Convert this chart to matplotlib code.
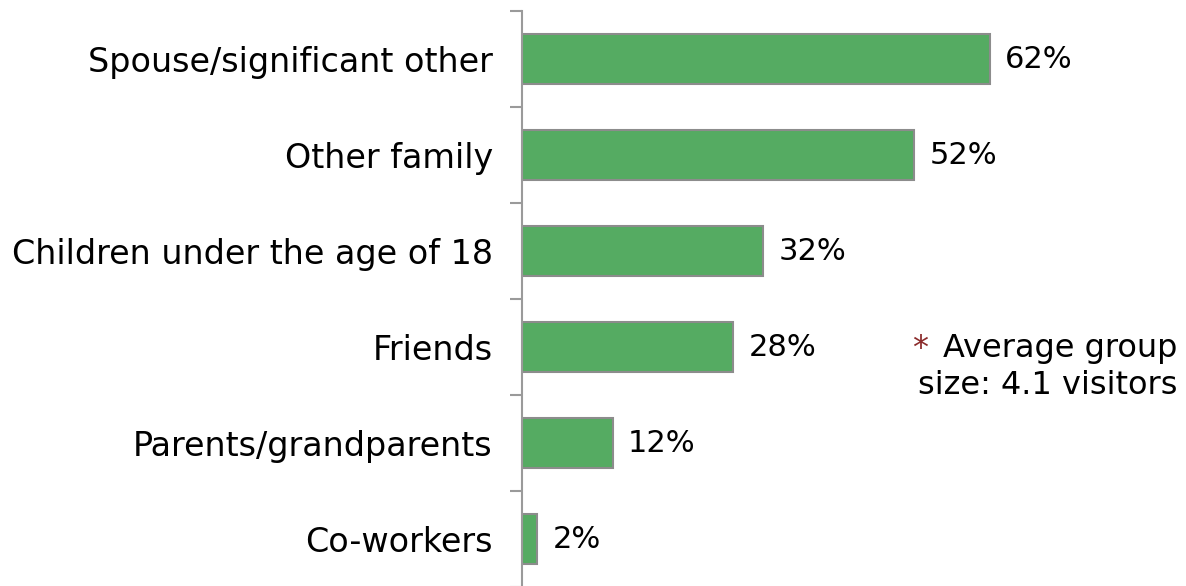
import numpy as np
import matplotlib.pyplot as plt

plt.rc('font', family='DejaVu Sans', size=24)

categories = ["Spouse/significant other", "Other family", "Children under the age of 18",
              "Friends", "Parents/grandparents", "Co-workers"]
values = [62, 52, 32, 28, 12, 2]

BAR_COLOR = "#55AB62"
EDGE_COLOR = "#8C8C8C"
AXIS_COLOR = "#9A9A9A"

fig = plt.figure(figsize=(11.86, 5.86), dpi=100)
ax = fig.add_axes([522 / 1186, -1 / 586, 528 / 1186, 576 / 586])

pos = np.arange(len(categories))
bars = ax.barh(pos, values, height=0.53, color=BAR_COLOR, edgecolor=EDGE_COLOR, linewidth=1.5)
ax.set_ylim(len(categories) - 0.5, -0.5)
ax.set_xlim(0, 70)

ax.set_yticks(pos)
ax.set_yticklabels(categories)
ax.tick_params(axis='y', which='major', length=0, pad=21)
ax.set_yticks(np.arange(len(categories) + 1) - 0.5, minor=True)
ax.tick_params(axis='y', which='minor', length=9, width=1.5, color=AXIS_COLOR)
ax.set_xticks([])

for side in ['top', 'right', 'bottom']:
  ax.spines[side].set_visible(False)
ax.spines['left'].set_color(AXIS_COLOR)
ax.spines['left'].set_linewidth(1.5)

for rect, v in zip(bars, values):
  ax.annotate("{}%".format(v), (rect.get_width(), rect.get_y() + rect.get_height() / 2),
              xytext=(11, 0), textcoords='offset points', ha='left', va='center', size=22)

# footnote on the right
fig.text(1177 / 1186, 1 - 357 / 586, "Average group", ha='right', va='baseline', size=23)
fig.text(912 / 1186, 1 - 357 / 586, "*", ha='left', va='baseline', color="#8B2B2B", size=23)
fig.text(1177 / 1186, 1 - 394 / 586, "size: 4.1 visitors", ha='right', va='baseline', size=23)

fig.patch.set_facecolor("white")
plt.savefig("out.png")
